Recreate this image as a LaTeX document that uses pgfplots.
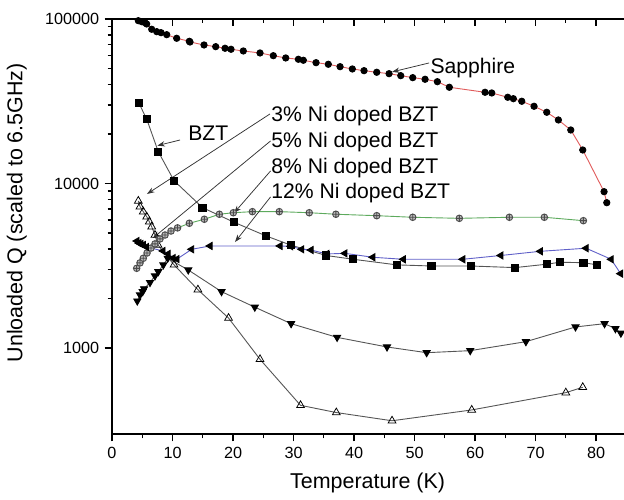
\documentclass[border=0pt]{standalone}
\usepackage{pgfplots}
\pgfplotsset{compat=1.18}
\usepackage{fontspec}
\setmainfont{Liberation Sans}
\usetikzlibrary{arrows.meta}

\definecolor{sapred}{HTML}{E05A5A}
\definecolor{nigreen}{HTML}{5DAA5D}
\definecolor{niblue}{HTML}{6060C8}
\definecolor{linegray}{HTML}{555555}

\pgfplotsset{
  qaxis/.style={
    scale only axis, width=342.9pt, height=276.67pt,
    xmin=0, xmax=85,
    xtick={0,10,...,80}, minor x tick num=1,
    major tick length=5pt, minor tick length=3pt,
    axis line style={line width=0.9pt},
    every tick/.style={black, line width=0.8pt},
  },
}

\begin{document}
\begin{tikzpicture}
\useasboundingbox (-74.67pt,-44pt) rectangle (341.33pt,289.33pt);
% top ticks point inwards
\begin{axis}[qaxis, ymin=0, ymax=1, axis x line*=top, axis y line=none,
  tick align=inside, xticklabels={}]
\end{axis}
\begin{axis}[
  qaxis,
  ymode=log, ymin=300, ymax=100000,
  ytick={1000,10000,100000}, yticklabels={1000,10000,100000},
  tick pos=left, tick align=outside,
  tick label style={font=\fontsize{10.8}{12}\selectfont},
  /pgf/number format/assume math mode=true,
  xlabel={Temperature (K)},
  ylabel={Unloaded Q (scaled to 6.5GHz)},
  every axis x label/.style={at={(axis description cs:0.497,-0.118)}, anchor=center,
    font=\fontsize{14.3}{17}\selectfont},
  every axis y label/.style={at={(axis description cs:-0.185,0.533)}, rotate=90, anchor=center,
    font=\fontsize{14.3}{17}\selectfont},
]
% Sapphire
\addplot[sapred, line width=0.6pt, mark=*, mark size=2.1pt, mark options={solid, black, fill=black}] coordinates {
(4.35,97650) (4.91,96300) (5.45,94950) (5.73,93250) (6.56,86570) (7.39,83720)
(8.1,82550) (9.04,80270) (10.69,76320) (12.78,73170) (12.89,72460) (15.21,69500)
(17.14,67870) (18.68,66360) (19.67,65430) (21.7,63890) (24.46,62140) (26.66,59820)
(28.71,57940) (30.8,56890) (31.62,56100) (33.72,54240) (35.75,53040) (37.69,51290)
(39.72,49660) (41.65,48500) (43.75,47420) (45.79,46500) (47.72,45220) (49.7,43980)
(51.74,42990) (53.77,41570) (55.75,38450) (61.65,35840) (62.76,35500) (65.4,33420)
(66.33,32770) (67.72,31600) (69.75,29460) (71.85,27090) (73.77,24320) (75.82,21140)
(77.8,15980) (81.32,8915) (81.77,7643)
};
% BZT
\addplot[linegray, line width=0.6pt, mark=square*, mark size=2.4pt, mark options={solid, black, fill=black}] coordinates {
(4.46,30700) (5.74,24600) (7.65,15600) (10.25,10400) (14.96,7130) (20.17,5810)
(25.45,4800) (29.54,4220) (35.37,3650) (39.88,3460) (47.06,3200) (52.78,3150)
(59.31,3150) (66.6,3080) (71.85,3230) (74.0,3320) (77.9,3300) (80.2,3200)
};
% open triangles
\addplot[linegray, line width=0.6pt, mark=triangle, mark size=3pt, mark options={solid, black, fill=white, line width=0.5pt}] coordinates {
(4.35,7830) (4.63,7230) (5.17,6740) (5.74,6280) (6.17,5860) (6.56,5460)
(7.1,4860) (7.6,4230) (10.25,3200) (14.2,2260) (19.26,1520) (24.46,853)
(31.16,448) (37.07,405) (46.28,361) (59.45,420) (75.0,535) (77.8,577)
};
% filled down triangles
\addplot[linegray, line width=0.6pt, mark=triangle*, mark size=2.7pt, mark options={solid, rotate=180, black, fill=black}] coordinates {
(4.18,1930) (4.63,2100) (5.07,2200) (5.3,2290) (6.28,2500) (7.1,2740)
(7.65,2910) (8.48,3200) (9.2,3510) (12.6,2980) (18.1,2200) (23.6,1770)
(29.6,1405) (37.2,1160) (45.45,1014) (52.0,936) (59.2,963) (68.4,1092)
(76.6,1342) (81.4,1405) (83.2,1310) (84.1,1230)
};
% crossed circles
\addplot[nigreen, line width=0.6pt, mark=oplus*, mark size=2.2pt, mark options={solid, draw=black!70, fill=gray!55}] coordinates {
(4.08,3050) (4.63,3290) (5.17,3510) (5.79,3780) (6.45,4050) (7.1,4290)
(7.93,4600) (8.76,4860) (9.75,5140) (10.83,5370) (12.78,5730) (15.26,6060)
(17.74,6500) (20.05,6640) (23.2,6740) (27.65,6740) (32.6,6640) (37.0,6500)
(43.75,6370) (49.7,6230) (57.4,6140) (65.67,6230) (71.45,6230) (77.9,5940)
};
% left triangles
\addplot[niblue, line width=0.6pt, mark=triangle*, mark size=2.7pt, mark options={solid, rotate=90, black, fill=black}] coordinates {
(4.13,4470) (4.46,4340) (4.79,4290) (5.2,4230) (5.7,4110) (8.43,3890)
(9.26,3730) (10.1,3520) (10.74,3470) (13.17,3980) (16.2,4170) (27.77,4170)
(29.54,4150) (31.36,3980) (32.9,3940) (35.5,3730) (38.5,3760) (43.1,3560)
(48.15,3460) (57.97,3460) (64.26,3650) (70.8,3870) (78.35,4040) (82.5,3460)
(84.05,2830)
};
% labels and pointers
\tikzset{lbl/.style={anchor=west, inner sep=0pt, font=\fontsize{14.1}{17}\selectfont},
         ptr/.style={black!80, line width=0.5pt, -{Stealth[length=5pt,width=3.5pt]}}}
\node[lbl] at (axis cs:52.6,50350) {Sapphire};
\draw[ptr] (axis cs:52.4,54020) -- (axis cs:46.28,47650);
\node[lbl] at (axis cs:12.56,20280) {BZT};
\draw[ptr] (axis cs:11.24,18380) -- (axis cs:7.49,16980);
\node[lbl] at (axis cs:26.3,25720) {3\% Ni doped BZT};
\node[lbl] at (axis cs:26.3,17880) {5\% Ni doped BZT};
\node[lbl] at (axis cs:26.3,12420) {8\% Ni doped BZT};
\node[lbl] at (axis cs:26.3,8755) {12\% Ni doped BZT};
\draw[ptr] (axis cs:26.1,26450) -- (axis cs:5.78,8630);
\draw[ptr] (axis cs:26.2,18130) -- (axis cs:6.78,4664);
\draw[ptr] (axis cs:26.2,11910) -- (axis cs:20.17,6618);
\draw[ptr] (axis cs:26.2,8279) -- (axis cs:20.33,4406);
\end{axis}
\end{tikzpicture}
\end{document}
